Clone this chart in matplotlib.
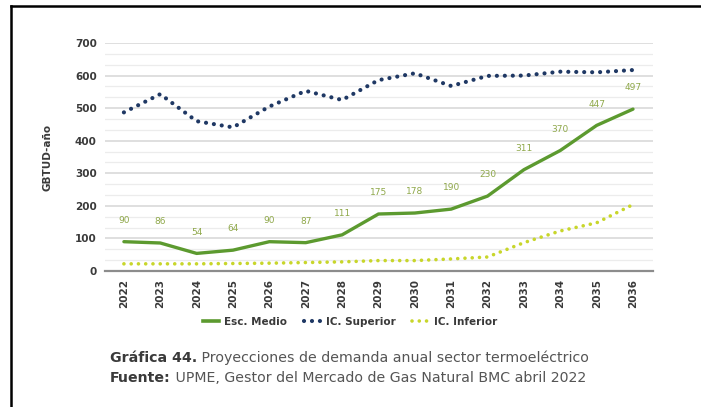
import numpy as np
import matplotlib.pyplot as plt
from matplotlib.lines import Line2D

# Data
years = list(range(2022, 2037))
esc_medio = [90, 86, 54, 64, 90, 87, 111, 175, 178, 190, 230, 311, 370, 447, 497]
ic_superior = [487, 543, 460, 441, 505, 553, 525, 586, 607, 568, 599, 600, 612, 610, 617]
ic_inferior = [22, 22, 22, 23, 24, 26, 28, 32, 32, 37, 43, 87, 123, 148, 204]

green = '#5c9a2f'
navy = '#1f3864'
lime = '#c8d62b'
label_col = '#8fa84a'
text_col = '#3a3a3a'

sup_style = (0, (0.01, 1.9))
inf_style = (0, (0.01, 2.0))

fig = plt.figure(figsize=(7.01, 4.07), dpi=100)
ax = fig.add_axes([105 / 701, 1 - 271 / 407, (653 - 105) / 701, (271 - 43) / 407])

ax.plot(years, esc_medio, color=green, lw=2.4, solid_capstyle='round', zorder=3)
ax.plot(years, ic_superior, color=navy, lw=3, linestyle=sup_style,
        dash_capstyle='round', zorder=3)
ax.plot(years, ic_inferior, color=lime, lw=2.6, linestyle=inf_style,
        dash_capstyle='round', zorder=3)

for x, v in zip(years, esc_medio):
    ax.annotate(str(v), (x, v), xytext=(0, 12), textcoords='offset points',
                ha='center', va='bottom', fontsize=6.5, color=label_col)

ax.set_xlim(2021.48, 2036.55)
ax.set_ylim(0, 700)
ax.set_yticks(range(0, 701, 100))
ax.set_yticks(np.arange(0, 700, 100 / 3), minor=True)
ax.set_xticks(years)
ax.set_xticklabels([str(y) for y in years], rotation=90, fontsize=7.5,
                   fontweight='bold', color=text_col)
for lab in ax.get_yticklabels():
    lab.set_fontsize(7.5)
    lab.set_fontweight('bold')
    lab.set_color(text_col)
ax.tick_params(axis='both', which='both', length=0)
ax.tick_params(axis='y', pad=6)
ax.tick_params(axis='x', pad=6)
ax.grid(axis='y', which='major', color='#d9d9d9', lw=1.2)
ax.grid(axis='y', which='minor', color='#ececec', lw=0.9)
ax.set_axisbelow(True)
for s in ['top', 'right', 'left']:
    ax.spines[s].set_visible(False)
ax.spines['bottom'].set_color('#8c8c8c')
ax.spines['bottom'].set_linewidth(1.6)
ax.set_ylabel('GBTUD-año', fontsize=7.5, fontweight='bold', color=text_col, labelpad=16)

handles = [
    Line2D([], [], color=green, lw=2.6),
    Line2D([], [], color=navy, lw=3, linestyle=sup_style, dash_capstyle='round'),
    Line2D([], [], color=lime, lw=2.6, linestyle=inf_style, dash_capstyle='round'),
]
leg = fig.legend(handles, ['Esc. Medio', 'IC. Superior', 'IC. Inferior'],
                 loc='center', bbox_to_anchor=(350 / 701, 1 - 322 / 407), ncol=3,
                 frameon=False, fontsize=7.5, handlelength=1.6, columnspacing=1.6,
                 handletextpad=0.5)
for t in leg.get_texts():
    t.set_fontweight('bold')
    t.set_color(text_col)

# caption with bold lead-in
renderer = fig.canvas.get_renderer()
for ypix, bold, rest in [(358, 'Gráfica 44.', ' Proyecciones de demanda anual sector termoeléctrico'),
                         (378, 'Fuente:', ' UPME, Gestor del Mercado de Gas Natural BMC abril 2022')]:
    t1 = fig.text(110 / 701, 1 - ypix / 407, bold, fontsize=10.2, fontweight='bold',
                  color=text_col, va='center', ha='left')
    bb = t1.get_window_extent(renderer=renderer)
    fig.text(bb.x1 / fig.bbox.width, 1 - ypix / 407, rest, fontsize=10.2,
             color='#555555', va='center', ha='left')

# frame lines of the screenshot
fig.add_artist(Line2D([11 / 701, 1], [1 - 6 / 407, 1 - 6 / 407], color='black', lw=1.8))
fig.add_artist(Line2D([11 / 701, 11 / 701], [1 - 6 / 407, 0], color='black', lw=1.8))

fig.savefig('out.png', dpi=100)
